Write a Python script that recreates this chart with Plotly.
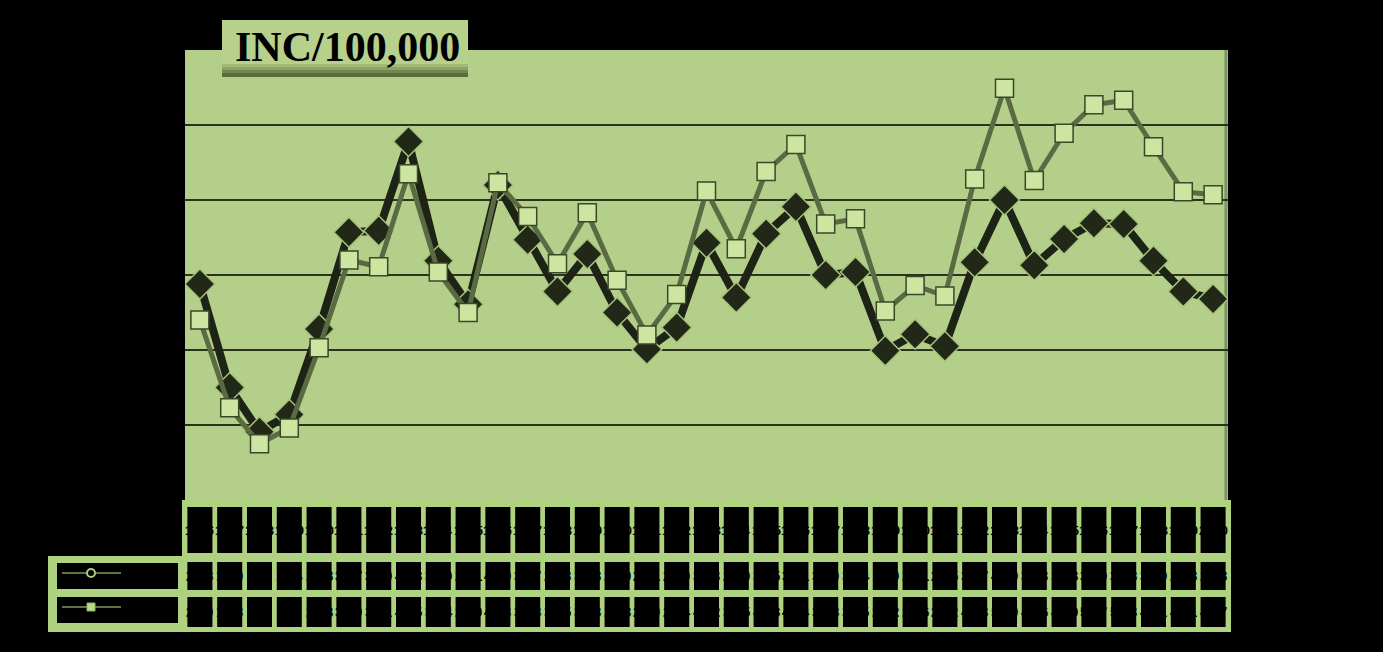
import plotly.graph_objects as go

# ---------------- data ----------------
years = [str(y) for y in range(1966, 2001)]
series_a = [28.8, 15.0, 9.1, 11.4, 22.8, 35.7, 35.9, 47.8, 31.9, 26.1,
            42.0, 34.7, 27.8, 32.8, 25.0, 20.1, 23.0, 34.3, 27.0, 35.5,
            39.1, 30.0, 30.4, 19.9, 22.1, 20.5, 31.7, 40.0, 31.3, 34.8,
            36.9, 36.8, 31.9, 27.8, 26.8]
series_b = [24.0, 12.3, 7.5, 9.6, 20.3, 32.0, 31.1, 43.5, 30.4, 25.0,
            42.3, 37.8, 31.5, 38.3, 29.3, 22.0, 27.4, 41.2, 33.5, 43.8,
            47.4, 36.8, 37.5, 25.2, 28.6, 27.2, 42.8, 54.9, 42.6, 48.9,
            52.7, 53.3, 47.1, 41.1, 40.7]
grid_vals = [10, 20, 30, 40, 50]
title_text = "INC/100,000"

# ---------------- styling ----------------
W, H = 1383, 652
L, R, T, B = 185, 155, 50, 152
PW, PH = W - L - R, H - T - B

def px(xp):
    return (xp - L) / PW

def py(yp):
    return (H - B - yp) / PH

PLOT_GREEN = "#b4cf8a"
TABLE_GREEN = "#aed27f"
DARK = "#222817"

fig = go.Figure()

fig.add_trace(go.Scatter(
    x=years, y=series_a, mode="lines+markers", name="Series A",
    line=dict(color="#1d2315", width=8),
    marker=dict(symbol="diamond", size=23, color=DARK,
                line=dict(color="#a6c27b", width=1.5)),
    showlegend=False,
))
fig.add_trace(go.Scatter(
    x=years, y=series_b, mode="lines+markers", name="Series B",
    line=dict(color="#5a6a43", width=5),
    marker=dict(symbol="square", size=18, color="#cde5a0",
                line=dict(color="#3a4728", width=1.5)),
    showlegend=False,
))

shapes = []
annotations = []

# right edge shadow of plot area
shapes.append(dict(type="line", xref="paper", yref="paper", x0=0.998, x1=0.998,
                   y0=0, y1=1, line=dict(color="#7d9660", width=3), layer="below"))

# ---- data table ----
shapes.append(dict(type="rect", xref="paper", yref="paper",
                   x0=px(182), x1=px(1231), y0=py(556), y1=py(500),
                   fillcolor=TABLE_GREEN, line=dict(width=0), layer="below"))
shapes.append(dict(type="rect", xref="paper", yref="paper",
                   x0=px(48), x1=px(1231), y0=py(632), y1=py(556),
                   fillcolor=TABLE_GREEN, line=dict(width=0), layer="below"))

rows = [
    (py(553), py(507), years, 13),
    (py(590), py(562), [f"{v:.1f}" for v in series_a], 14),
    (py(627), py(597), [f"{v:.1f}" for v in series_b], 14),
]
for y0, y1, labels, fs in rows:
    for i, lab in enumerate(labels):
        shapes.append(dict(type="rect", xref="x", yref="paper",
                           x0=i - 0.42, x1=i + 0.42, y0=y0, y1=y1,
                           fillcolor="#000000", line=dict(width=0), layer="above"))
        annotations.append(dict(xref="x", yref="paper", x=i, y=(y0 + y1) / 2,
                                xanchor="center", yanchor="middle",
                                text=f"<b>{lab}</b>", showarrow=False,
                                font=dict(family="Liberation Sans", size=fs, color="#000000")))

# legend cells
for (ya, yb) in [(589, 563), (623, 597)]:
    shapes.append(dict(type="rect", xref="paper", yref="paper",
                       x0=px(57), x1=px(178), y0=py(ya), y1=py(yb),
                       fillcolor="#000000", line=dict(width=0), layer="above"))
for yl in [573, 607]:
    shapes.append(dict(type="line", xref="paper", yref="paper",
                       x0=px(62), x1=px(121), y0=py(yl), y1=py(yl),
                       line=dict(color="#5f7244", width=2), layer="above"))
shapes.append(dict(type="circle", xref="paper", yref="paper",
                   x0=px(87), x1=px(95), y0=py(577), y1=py(569),
                   fillcolor="#000000", line=dict(color="#a9cf7c", width=2), layer="above"))
shapes.append(dict(type="rect", xref="paper", yref="paper",
                   x0=px(87), x1=px(95), y0=py(611), y1=py(603),
                   fillcolor="#b6dc86", line=dict(color="#8fae66", width=1), layer="above"))

# ---- title box ----
shapes.append(dict(type="rect", xref="paper", yref="paper",
                   x0=px(222), x1=px(468), y0=py(77), y1=py(20),
                   fillcolor="#b7d08c", line=dict(width=0), layer="above"))
band = [("#a3ba77", 64, 67), ("#8ca364", 67, 70), ("#738850", 70, 73), ("#5b6b3e", 73, 77)]
for col, a, b in band:
    shapes.append(dict(type="rect", xref="paper", yref="paper",
                       x0=px(222), x1=px(468), y0=py(b), y1=py(a),
                       fillcolor=col, line=dict(width=0), layer="above"))
annotations.append(dict(xref="paper", yref="paper", x=px(347), y=py(47),
                        xanchor="center", yanchor="middle",
                        text=f"<b>{title_text}</b>", showarrow=False,
                        font=dict(family="Liberation Serif", size=42, color="#000000")))

fig.update_layout(
    width=W, height=H,
    margin=dict(l=L, r=R, t=T, b=B, pad=0),
    paper_bgcolor="#000000",
    plot_bgcolor=PLOT_GREEN,
    shapes=shapes,
    annotations=annotations,
    xaxis=dict(type="category", range=[-0.5, len(years) - 0.5],
               showgrid=False, showticklabels=False, zeroline=False,
               showline=False, ticks=""),
    yaxis=dict(range=[0, 60], tickvals=grid_vals, showticklabels=False,
               showgrid=True, gridcolor="#2b331f", gridwidth=2,
               zeroline=False, showline=False, ticks=""),
)

fig.write_html("out.html")
